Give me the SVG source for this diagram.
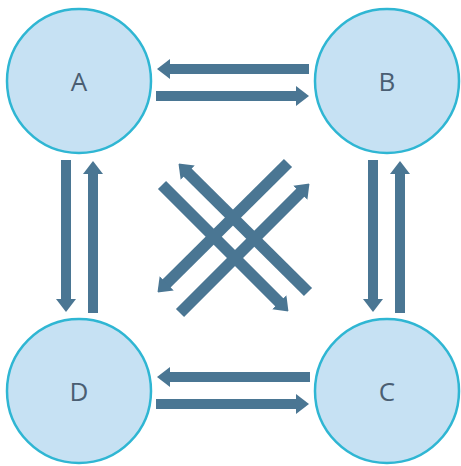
<svg xmlns="http://www.w3.org/2000/svg" width="461" height="466" viewBox="0 0 461 466">
  <style>
    .node circle { fill: #c6e1f3; stroke: #2fb6d3; stroke-width: 2.5; }
    .node text { font-family: "Open Sans", "Noto Sans", "Liberation Sans", sans-serif; font-size: 26px; fill: #4a5e72; text-anchor: middle; }
    .edge { stroke: #4a7693; stroke-width: 10; fill: none; marker-end: url(#head); }
    .edge.diag { stroke-width: 11.5; }
  </style>
  <defs>
    <marker id="head" markerUnits="userSpaceOnUse" markerWidth="13" markerHeight="21" refX="1" refY="10.5" orient="auto">
      <path d="M0,0.5 L13,10.5 L0,20.5 Z" fill="#4a7693"/>
    </marker>
  </defs>
  <rect width="461" height="466" fill="#ffffff"/>

  <g id="connectors">
    <!-- A / B -->
    <line class="edge" x1="309" y1="69" x2="169" y2="69"/>
    <line class="edge" x1="156" y1="96" x2="297" y2="96"/>
    <!-- A / D -->
    <line class="edge" x1="66" y1="160" x2="66" y2="300"/>
    <line class="edge" x1="93" y1="313" x2="93" y2="173"/>
    <!-- B / C -->
    <line class="edge" x1="373" y1="160" x2="373" y2="300"/>
    <line class="edge" x1="400" y1="313" x2="400" y2="173"/>
    <!-- D / C -->
    <line class="edge" x1="310" y1="377" x2="169" y2="377"/>
    <line class="edge" x1="156" y1="404" x2="297" y2="404"/>
    <!-- diagonals -->
    <line class="edge diag" x1="308" y1="292" x2="187" y2="172"/>
    <line class="edge diag" x1="162" y1="185" x2="280" y2="303"/>
    <line class="edge diag" x1="288" y1="163" x2="166" y2="284"/>
    <line class="edge diag" x1="180" y1="313" x2="301" y2="192"/>
  </g>

  <g id="A" class="node">
    <circle cx="79" cy="81" r="72"/>
    <text x="79" y="91">A</text>
  </g>
  <g id="B" class="node">
    <circle cx="387" cy="81" r="72"/>
    <text x="387" y="91">B</text>
  </g>
  <g id="C" class="node">
    <circle cx="387" cy="391" r="72"/>
    <text x="387" y="401">C</text>
  </g>
  <g id="D" class="node">
    <circle cx="79" cy="391" r="72"/>
    <text x="79" y="401">D</text>
  </g>
</svg>
